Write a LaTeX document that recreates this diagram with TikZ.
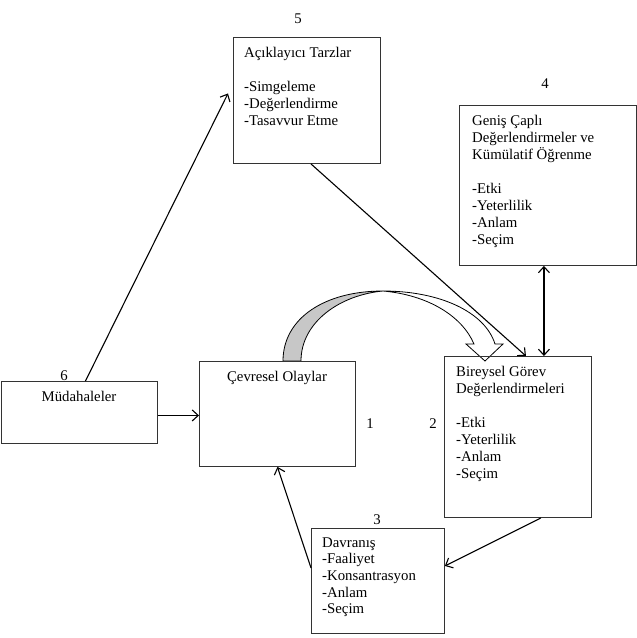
\documentclass[tikz,border=0pt]{standalone}
\usepackage{fontspec}
\setmainfont{Liberation Serif}
\usetikzlibrary{arrows.meta}
\newcommand{\topline}{\rule{0pt}{12pt}}

\begin{document}
\begin{tikzpicture}[x=1pt,y=-1pt]
\tikzstyle{every node}+=[inner sep=0pt]
\tikzstyle{box}=[draw=black!80,line width=0.9pt,anchor=north west]
\tikzstyle{txt}=[anchor=north west,align=left,font=\fontsize{14.8}{17.1}\selectfont]
\tikzstyle{num}=[anchor=base,font=\fontsize{14.8}{17.1}\selectfont]
\tikzstyle{link}=[black,line width=1.1pt,-{Straight Barb[length=6pt,width=11pt]}]
\useasboundingbox (0,0) rectangle (637,638);
\filldraw[fill=black!22,draw=black,line width=0.8pt] (283,361) .. controls (283,318) and (325,291) .. (383,291) .. controls (340,295) and (301,322) .. (301,361) -- cycle;
\filldraw[fill=white,draw=black,line width=0.8pt] (383,291) .. controls (440,291) and (485,312) .. (495,344) -- (503,344) -- (485,361) -- (466,344) -- (474,344) .. controls (462,316) and (428,295) .. (383,291) -- cycle;
\node[box,minimum width=147,minimum height=126] (expl) at (233,37) {};
\node[txt] (explt) at (244,45) {\topline Açıklayıcı Tarzlar\\[17.1pt]-Simgeleme\\-Değerlendirme\\-Tasavvur Etme};
\node[box,minimum width=177,minimum height=160] (broad) at (459,105) {};
\node[txt] (broadt) at (472,113) {\topline Geniş Çaplı\\Değerlendirmeler ve\\Kümülatif Öğrenme\\[17.1pt]-Etki\\-Yeterlilik\\-Anlam\\-Seçim};
\node[box,minimum width=156,minimum height=62] (mud) at (1,381) {};
\node[txt,anchor=base] (mudt) at (79,401) {Müdahaleler};
\node[box,minimum width=156,minimum height=105] (env) at (199,361) {};
\node[txt,anchor=base] (envt) at (277,381) {Çevresel Olaylar};
\node[box,minimum width=147,minimum height=161] (indiv) at (444,356) {};
\node[txt] (indivt) at (456,364) {\topline Bireysel Görev\\Değerlendirmeleri\\[17.1pt]-Etki\\-Yeterlilik\\-Anlam\\-Seçim};
\node[box,minimum width=133,minimum height=105] (beh) at (311,528) {};
\node[txt,font=\fontsize{14.8}{16.6}\selectfont] (beht) at (322,535) {\topline Davranış\\-Faaliyet\\-Konsantrasyon\\-Anlam\\-Seçim};
\node[num] (n1) at (370,428) {1};
\node[num] (n2) at (433,428) {2};
\node[num] (n3) at (377,524) {3};
\node[num] (n4) at (545,88) {4};
\node[num] (n5) at (298,23) {5};
\node[num] (n6) at (64,380) {6};
\draw[link] ([xshift=6]mud.north) -- ([xshift=-5,yshift=7]expl.west);
\draw[link] ([yshift=-3]mud.east) -- ([yshift=-3]mud.east -| env.west);
\draw[link] ([xshift=4]expl.south) -- ([xshift=8]indiv.north);
\draw[black,line width=1.1pt,{Straight Barb[length=6pt,width=11pt]}-{Straight Barb[length=6pt,width=11pt]}] ([xshift=-4]broad.south) -- ([xshift=-4]broad.south |- indiv.north);
\draw[link] ([xshift=23]indiv.south) -- ([yshift=15]beh.east);
\draw[link] ([yshift=13]beh.west) -- (env.south);
\end{tikzpicture}
\end{document}
